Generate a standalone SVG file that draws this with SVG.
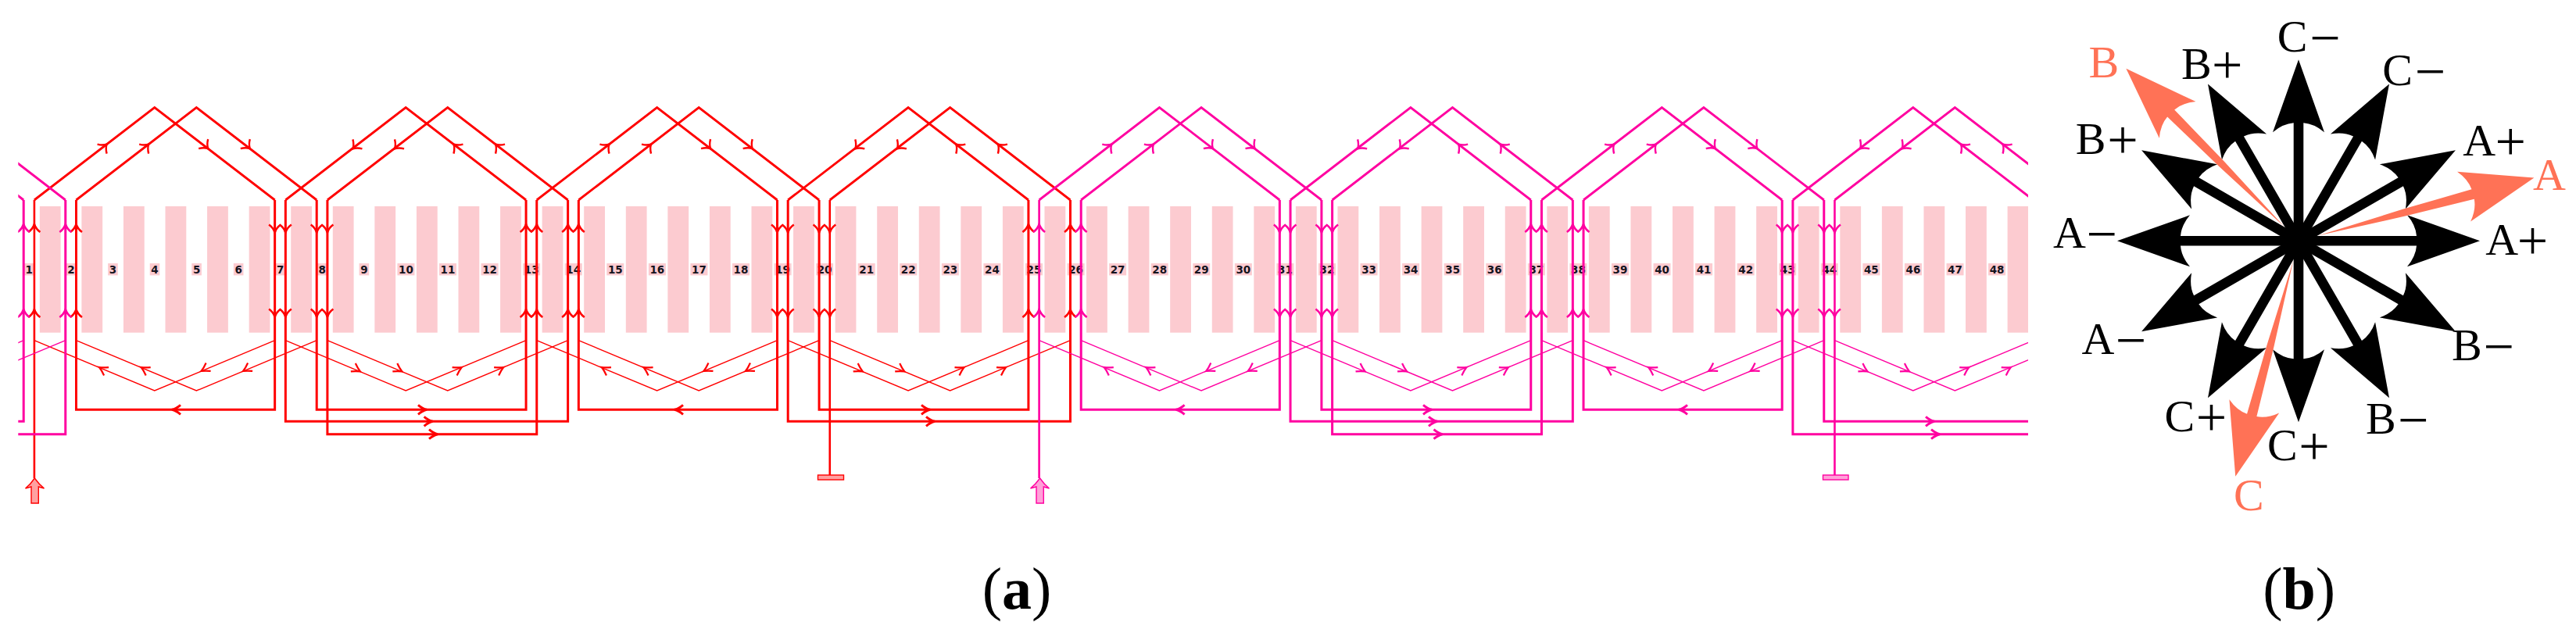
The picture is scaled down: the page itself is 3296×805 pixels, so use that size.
<svg xmlns="http://www.w3.org/2000/svg" width="3296" height="805" viewBox="0 0 3296 805">
<style>
.r{color:#ff0000}.m{color:#ff00a0}
.t{fill:#fccbd0}
.w{fill:none;stroke:currentColor;stroke-width:3}
.l{fill:none;stroke:currentColor;stroke-width:2.6}
.d{fill:none;stroke:currentColor;stroke-width:2.9}
.th{fill:none;stroke:currentColor;stroke-width:1.4}
.av{fill:none;stroke:currentColor;stroke-width:2.6}
.ad{fill:none;stroke:currentColor;stroke-width:2.4}
.al{fill:none;stroke:currentColor;stroke-width:2.2}
.ah{fill:none;stroke:currentColor;stroke-width:3}
.n{font:bold 13.5px "DejaVu Sans",sans-serif;fill:#14141e;text-anchor:middle}
.s{font:58px "Liberation Serif",serif;fill:#000}
.o{fill:#ff7256}
.so{font:58px "Liberation Serif",serif;fill:#ff7256}
.op{font-size:70px}
.c{font:76px "Liberation Serif",serif;fill:#000;text-anchor:middle}
.c tspan{font-weight:bold}
.tr{fill:#ffa0a0;stroke:#ff0000;stroke-width:1.4}
.tm{fill:#ffa0d8;stroke:#ff00a0;stroke-width:1.4}
</style>
<defs>
<clipPath id="cp"><rect x="23.3" y="0" width="2571.7" height="805"/></clipPath>
<rect id="b1" x="-6.3" y="337" width="12.6" height="15.4" class="t"/>
<rect id="b2" x="-11" y="337" width="22" height="15.4" class="t"/>
<path id="v" class="av" d="M-7.5 10Q-2 6 0 0Q2 6 7.5 10"/>
<path id="g" class="ad" d="M-8.5 8.5Q-2.5 5 0 0Q2.5 5 8.5 8.5"/>
<path id="f" class="al" d="M-6 10.5Q-2 5 0 0Q2 5 6 10.5"/>
<path id="h" class="ah" d="M-11-6Q-5-1 0 0Q-5 1-11 6"/>
<g id="up">
<use href="#v" transform="translate(0 287)"/><use href="#v" transform="translate(0 396)"/>
<use href="#v" transform="translate(53.57 287)"/><use href="#v" transform="translate(53.57 396)"/>
</g>
<g id="dn">
<use href="#v" transform="translate(0 297.5) rotate(180)"/><use href="#v" transform="translate(0 405.5) rotate(180)"/>
<use href="#v" transform="translate(53.57 297.5) rotate(180)"/><use href="#v" transform="translate(53.57 405.5) rotate(180)"/>
</g>
<g id="coil">
<path class="d" d="M43.9 256L197.77 137.5L351.63 256M97.47 256L251.33 137.5L405.2 256"/>
<path class="th" d="M43.9 435.7L197.77 500L351.63 435.7M97.47 435.7L251.33 500L405.2 435.7"/>
</g>
<g id="fw">
<use href="#g" transform="translate(136.6 184.6) rotate(45)"/><use href="#g" transform="translate(190.2 184.6) rotate(45)"/>
<use href="#g" transform="translate(266.2 190.2) rotate(135)"/><use href="#g" transform="translate(319.8 190.2) rotate(135)"/>
<use href="#f" transform="translate(127 470) rotate(-60)"/><use href="#f" transform="translate(180.6 470) rotate(-60)"/>
<use href="#f" transform="translate(257.5 475) rotate(240)"/><use href="#f" transform="translate(311 475) rotate(240)"/>
</g>
<g id="bk">
<use href="#g" transform="translate(130 190.4) rotate(225)"/><use href="#g" transform="translate(183.6 190.4) rotate(225)"/>
<use href="#g" transform="translate(259 184.6) rotate(315)"/><use href="#g" transform="translate(312.6 184.6) rotate(315)"/>
<use href="#f" transform="translate(139.5 475.5) rotate(120)"/><use href="#f" transform="translate(193 475.5) rotate(120)"/>
<use href="#f" transform="translate(269.3 470) rotate(60)"/><use href="#f" transform="translate(322.8 470) rotate(60)"/>
</g>
<path id="ba" d="M0-6.3H151Q150-20 139-33L232 0L139 33Q150 20 151 6.3H0Z"/>
<path id="oa" d="M26 0L140-4.6L231-6.4Q230-20 219-33L312 0L219 33Q230 20 231 6.4L140 4.6Z"/>
</defs>
<g id="teeth" class="t">
<rect x="50.8" y="264" width="26.8" height="161.7"/><rect x="104.37" y="264" width="26.8" height="161.7"/><rect x="157.94" y="264" width="26.8" height="161.7"/><rect x="211.51" y="264" width="26.8" height="161.7"/><rect x="265.08" y="264" width="26.8" height="161.7"/><rect x="318.65" y="264" width="26.8" height="161.7"/><rect x="372.22" y="264" width="26.8" height="161.7"/><rect x="425.79" y="264" width="26.8" height="161.7"/><rect x="479.36" y="264" width="26.8" height="161.7"/><rect x="532.93" y="264" width="26.8" height="161.7"/><rect x="586.5" y="264" width="26.8" height="161.7"/><rect x="640.07" y="264" width="26.8" height="161.7"/>
<rect x="693.64" y="264" width="26.8" height="161.7"/><rect x="747.21" y="264" width="26.8" height="161.7"/><rect x="800.78" y="264" width="26.8" height="161.7"/><rect x="854.35" y="264" width="26.8" height="161.7"/><rect x="907.92" y="264" width="26.8" height="161.7"/><rect x="961.49" y="264" width="26.8" height="161.7"/><rect x="1015.06" y="264" width="26.8" height="161.7"/><rect x="1068.63" y="264" width="26.8" height="161.7"/><rect x="1122.2" y="264" width="26.8" height="161.7"/><rect x="1175.77" y="264" width="26.8" height="161.7"/><rect x="1229.34" y="264" width="26.8" height="161.7"/><rect x="1282.91" y="264" width="26.8" height="161.7"/>
<rect x="1336.48" y="264" width="26.8" height="161.7"/><rect x="1390.05" y="264" width="26.8" height="161.7"/><rect x="1443.62" y="264" width="26.8" height="161.7"/><rect x="1497.19" y="264" width="26.8" height="161.7"/><rect x="1550.76" y="264" width="26.8" height="161.7"/><rect x="1604.33" y="264" width="26.8" height="161.7"/><rect x="1657.9" y="264" width="26.8" height="161.7"/><rect x="1711.47" y="264" width="26.8" height="161.7"/><rect x="1765.04" y="264" width="26.8" height="161.7"/><rect x="1818.61" y="264" width="26.8" height="161.7"/><rect x="1872.18" y="264" width="26.8" height="161.7"/><rect x="1925.75" y="264" width="26.8" height="161.7"/>
<rect x="1979.32" y="264" width="26.8" height="161.7"/><rect x="2032.89" y="264" width="26.8" height="161.7"/><rect x="2086.46" y="264" width="26.8" height="161.7"/><rect x="2140.03" y="264" width="26.8" height="161.7"/><rect x="2193.6" y="264" width="26.8" height="161.7"/><rect x="2247.17" y="264" width="26.8" height="161.7"/><rect x="2300.74" y="264" width="26.8" height="161.7"/><rect x="2354.31" y="264" width="26.8" height="161.7"/><rect x="2407.88" y="264" width="26.8" height="161.7"/><rect x="2461.45" y="264" width="26.8" height="161.7"/><rect x="2515.02" y="264" width="26.8" height="161.7"/><rect x="2568.59" y="264" width="26.4" height="161.7"/>
</g>
<g id="slot-numbers">
<use href="#b1" x="37.3"/><text class="n" x="37.3" y="349.5">1</text>
<use href="#b1" x="90.87"/><text class="n" x="90.87" y="349.5">2</text>
<use href="#b1" x="144.44"/><text class="n" x="144.44" y="349.5">3</text>
<use href="#b1" x="198.01"/><text class="n" x="198.01" y="349.5">4</text>
<use href="#b1" x="251.58"/><text class="n" x="251.58" y="349.5">5</text>
<use href="#b1" x="305.15"/><text class="n" x="305.15" y="349.5">6</text>
<use href="#b1" x="358.72"/><text class="n" x="358.72" y="349.5">7</text>
<use href="#b1" x="412.29"/><text class="n" x="412.29" y="349.5">8</text>
<use href="#b1" x="465.86"/><text class="n" x="465.86" y="349.5">9</text>
<use href="#b2" x="519.43"/><text class="n" x="519.43" y="349.5">10</text>
<use href="#b2" x="573"/><text class="n" x="573" y="349.5">11</text>
<use href="#b2" x="626.57"/><text class="n" x="626.57" y="349.5">12</text>
<use href="#b2" x="680.14"/><text class="n" x="680.14" y="349.5">13</text>
<use href="#b2" x="733.71"/><text class="n" x="733.71" y="349.5">14</text>
<use href="#b2" x="787.28"/><text class="n" x="787.28" y="349.5">15</text>
<use href="#b2" x="840.85"/><text class="n" x="840.85" y="349.5">16</text>
<use href="#b2" x="894.42"/><text class="n" x="894.42" y="349.5">17</text>
<use href="#b2" x="947.99"/><text class="n" x="947.99" y="349.5">18</text>
<use href="#b2" x="1001.56"/><text class="n" x="1001.56" y="349.5">19</text>
<use href="#b2" x="1055.13"/><text class="n" x="1055.13" y="349.5">20</text>
<use href="#b2" x="1108.7"/><text class="n" x="1108.7" y="349.5">21</text>
<use href="#b2" x="1162.27"/><text class="n" x="1162.27" y="349.5">22</text>
<use href="#b2" x="1215.84"/><text class="n" x="1215.84" y="349.5">23</text>
<use href="#b2" x="1269.41"/><text class="n" x="1269.41" y="349.5">24</text>
<use href="#b2" x="1322.98"/><text class="n" x="1322.98" y="349.5">25</text>
<use href="#b2" x="1376.55"/><text class="n" x="1376.55" y="349.5">26</text>
<use href="#b2" x="1430.12"/><text class="n" x="1430.12" y="349.5">27</text>
<use href="#b2" x="1483.69"/><text class="n" x="1483.69" y="349.5">28</text>
<use href="#b2" x="1537.26"/><text class="n" x="1537.26" y="349.5">29</text>
<use href="#b2" x="1590.83"/><text class="n" x="1590.83" y="349.5">30</text>
<use href="#b2" x="1644.4"/><text class="n" x="1644.4" y="349.5">31</text>
<use href="#b2" x="1697.97"/><text class="n" x="1697.97" y="349.5">32</text>
<use href="#b2" x="1751.54"/><text class="n" x="1751.54" y="349.5">33</text>
<use href="#b2" x="1805.11"/><text class="n" x="1805.11" y="349.5">34</text>
<use href="#b2" x="1858.68"/><text class="n" x="1858.68" y="349.5">35</text>
<use href="#b2" x="1912.25"/><text class="n" x="1912.25" y="349.5">36</text>
<use href="#b2" x="1965.82"/><text class="n" x="1965.82" y="349.5">37</text>
<use href="#b2" x="2019.39"/><text class="n" x="2019.39" y="349.5">38</text>
<use href="#b2" x="2072.96"/><text class="n" x="2072.96" y="349.5">39</text>
<use href="#b2" x="2126.53"/><text class="n" x="2126.53" y="349.5">40</text>
<use href="#b2" x="2180.1"/><text class="n" x="2180.1" y="349.5">41</text>
<use href="#b2" x="2233.67"/><text class="n" x="2233.67" y="349.5">42</text>
<use href="#b2" x="2287.24"/><text class="n" x="2287.24" y="349.5">43</text>
<use href="#b2" x="2340.81"/><text class="n" x="2340.81" y="349.5">44</text>
<use href="#b2" x="2394.38"/><text class="n" x="2394.38" y="349.5">45</text>
<use href="#b2" x="2447.95"/><text class="n" x="2447.95" y="349.5">46</text>
<use href="#b2" x="2501.52"/><text class="n" x="2501.52" y="349.5">47</text>
<use href="#b2" x="2555.09"/><text class="n" x="2555.09" y="349.5">48</text>
</g>
<g id="connectors" clip-path="url(#cp)">
<g id="phase-a" class="r">
<use href="#coil"/><use href="#coil" x="321.43"/><use href="#coil" x="642.86"/><use href="#coil" x="964.29"/>
<use href="#fw"/><use href="#bk" x="321.43"/><use href="#fw" x="642.86"/><use href="#bk" x="964.29"/>
<use href="#up" x="43.9"/><use href="#dn" x="351.63"/><use href="#dn" x="365.33"/><use href="#up" x="673.06"/><use href="#up" x="686.76"/><use href="#dn" x="994.49"/><use href="#dn" x="1008.19"/><use href="#up" x="1315.91"/>
<path class="l" d="M43.9 256V612"/>
<path class="w" d="M97.47 256V524.3H351.63V256"/>
<path class="w" d="M405.2 256V524.3H673.06V256"/>
<path class="w" d="M365.33 256V539.3H726.63V256"/>
<path class="w" d="M418.9 256V555.7H686.76V256"/>
<path class="w" d="M740.33 256V524.3H994.49V256"/>
<path class="w" d="M1048.06 256V524.3H1315.91V256"/>
<path class="w" d="M1008.19 256V539.3H1369.48V256"/>
<path class="l" d="M1061.76 256V608"/>
<use href="#h" transform="translate(220 524.3) rotate(180)"/>
<use href="#h" transform="translate(546 524.3)"/>
<use href="#h" transform="translate(553.6 539.3)"/>
<use href="#h" transform="translate(560 555.7)"/>
<use href="#h" transform="translate(863 524.3) rotate(180)"/>
<use href="#h" transform="translate(1190 524.3)"/>
<use href="#h" transform="translate(1196 539.3)"/>
</g>
<g id="phase-a2" class="m">
<use href="#coil" x="-321.43"/><use href="#coil" x="1285.71"/><use href="#coil" x="1607.14"/><use href="#coil" x="1928.57"/><use href="#coil" x="2250"/>
<use href="#fw" x="1285.71"/><use href="#bk" x="1607.14"/><use href="#fw" x="1928.57"/><use href="#bk" x="2250"/>
<use href="#up" x="30.2"/><use href="#up" x="1329.61"/><use href="#dn" x="1637.34"/><use href="#dn" x="1651.04"/><use href="#up" x="1958.77"/><use href="#up" x="1972.47"/><use href="#dn" x="2280.2"/><use href="#dn" x="2293.9"/>
<path class="w" d="M30.2 256V539.3H20"/>
<path class="w" d="M83.77 256V555.7H20"/>
<path class="l" d="M1329.61 256V612"/>
<path class="w" d="M1383.18 256V524.3H1637.34V256"/>
<path class="w" d="M1690.91 256V524.3H1958.77V256"/>
<path class="w" d="M1651.04 256V539.3H2012.34V256"/>
<path class="w" d="M1704.61 256V555.7H1972.47V256"/>
<path class="w" d="M2026.04 256V524.3H2280.2V256"/>
<path class="w" d="M2333.77 256V539.3H2600"/>
<path class="w" d="M2293.9 256V555.7H2600"/>
<path class="l" d="M2347.47 256V608"/>
<use href="#h" transform="translate(1504.6 524.3) rotate(180)"/>
<use href="#h" transform="translate(1832 524.3)"/>
<use href="#h" transform="translate(1839 539.3)"/>
<use href="#h" transform="translate(1845.5 555.7)"/>
<use href="#h" transform="translate(2148 524.3) rotate(180)"/>
<use href="#h" transform="translate(2475 539.3)"/>
<use href="#h" transform="translate(2482 555.7)"/>
</g>
</g>
<g id="terminal-a-in"><path class="tr" d="M44.3 612Q39 620 32.5 625L40 623V644H49.3V623L56.5 625Q50 620 44.3 612Z"/></g>
<g id="terminal-a-out"><rect class="tr" x="1046.5" y="608" width="33" height="6"/></g>
<g id="terminal-a2-in"><path class="tm" d="M1330.6 612Q1325 620 1318.5 625L1326 623V644H1335.3V623L1342.5 625Q1336 620 1330.6 612Z"/></g>
<g id="terminal-a2-out"><rect class="tm" x="2332.5" y="608" width="32.5" height="6"/></g>
<g id="phasor-black" transform="translate(2941 308.3)">
<use href="#ba"/><use href="#ba" transform="rotate(30)"/><use href="#ba" transform="rotate(60)"/><use href="#ba" transform="rotate(90)"/><use href="#ba" transform="rotate(120)"/><use href="#ba" transform="rotate(150)"/><use href="#ba" transform="rotate(180)"/><use href="#ba" transform="rotate(210)"/><use href="#ba" transform="rotate(240)"/><use href="#ba" transform="rotate(270)"/><use href="#ba" transform="rotate(300)"/><use href="#ba" transform="rotate(330)"/>
</g>
<g id="phasor-orange" class="o" transform="translate(2941 308.3)">
<use href="#oa" transform="rotate(-15)"/><use href="#oa" transform="rotate(-135)"/><use href="#oa" transform="rotate(105)"/>
</g>
<g id="phasor-labels">
<text class="s" x="2913.7" y="65.7" textLength="81">C<tspan class="op" dy="6">−</tspan></text>
<text class="s" x="3048.2" y="109.3" textLength="81">C<tspan class="op" dy="6">−</tspan></text>
<text class="s" x="3151.3" y="199.2" textLength="80.7">A<tspan class="op" dy="6">+</tspan></text>
<text class="s" x="3180.2" y="326" textLength="80">A<tspan class="op" dy="6">+</tspan></text>
<text class="s" x="3137" y="460.5" textLength="80">B<tspan class="op" dy="6">−</tspan></text>
<text class="s" x="3026.9" y="555.4" textLength="80.7">B<tspan class="op" dy="6">−</tspan></text>
<text class="s" x="2901" y="589.3" textLength="79.7">C<tspan class="op" dy="6">+</tspan></text>
<text class="s" x="2769.5" y="551.8" textLength="79.7">C<tspan class="op" dy="6">+</tspan></text>
<text class="s" x="2663.5" y="453.3" textLength="82.7">A<tspan class="op" dy="6">−</tspan></text>
<text class="s" x="2626.9" y="317.2" textLength="82">A<tspan class="op" dy="6">−</tspan></text>
<text class="s" x="2655.8" y="196.6" textLength="80">B<tspan class="op" dy="6">+</tspan></text>
<text class="s" x="2790.9" y="100.6" textLength="78.7">B<tspan class="op" dy="6">+</tspan></text>
<text class="so" x="2672.6" y="98.6">B</text>
<text class="so" x="3241" y="243.3">A</text>
<text class="so" x="2857.9" y="653">C</text>
</g>
<text class="c" x="1301" y="779.3">(<tspan>a</tspan>)</text>
<text class="c" x="2941.6" y="779.3">(<tspan>b</tspan>)</text>
</svg>
